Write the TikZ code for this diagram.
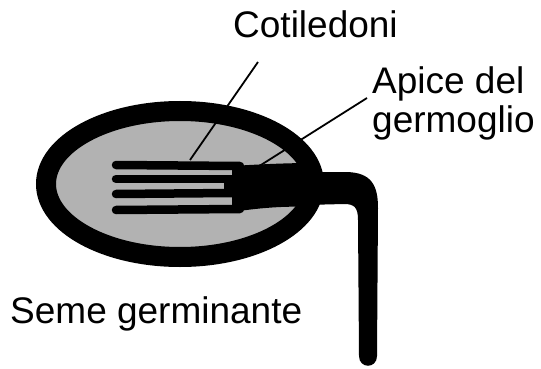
\documentclass[tikz,border=0pt]{standalone}
\usepackage{fontspec}
\setmainfont{Liberation Sans}
\definecolor{seedgray}{RGB}{178,178,178}

\begin{document}
\begin{tikzpicture}[x=1pt,y=-1pt,
			tag/.style={inner sep=0pt, anchor=base west, font=\fontsize{37}{39}\selectfont},
			leader/.style={line width=1.8pt},
			coat/.style={line width=20pt, fill=seedgray},
			leaf/.style={line width=8.5pt, line cap=round}]
	\useasboundingbox (0,0) rectangle (541,369);
	% seed coat
	\draw[coat] (180,184) ellipse [x radius=134, y radius=73];
	% embryo axis and stem
	\fill (232,166) .. controls (265,164) and (290,163) .. (312,163) -- (312,207)
		.. controls (290,206) and (265,207) .. (232,212) -- cycle;
	\fill (305,172) -- (345,172) .. controls (372,172) and (378,186) .. (378,208)
		-- (377,356) .. controls (377,369) and (359,369) .. (359,356)
		-- (358,220) .. controls (358,207) and (354,204) .. (344,204) -- (305,205) -- cycle;
	% cotyledons
	\draw[leaf] (116,165) -- (240,166);
	\draw[leaf] (116,179) -- (232,179);
	\draw[leaf] (116,194) -- (232,193);
	\draw[leaf] (116,210) -- (240,209);
	\fill (224,179) rectangle (236,193);
	% labels
	\node[tag] (cot) at (233,38) {Cotiledoni};
	\node[tag] (apice) at (372,93) {Apice del};
	\node[tag] (germ) at (372,132) {germoglio};
	\node[tag] (seme) at (10,323) {Seme germinante};
	\coordinate (cotend) at (190,160);
	\coordinate (apiceend) at (253,170);
	\draw[leader] ([xshift=25pt,yshift=-24pt]cot.base west) -- (cotend);
	\draw[leader] ([xshift=-5pt,yshift=-5pt]apice.base west) -- (apiceend);
\end{tikzpicture}
\end{document}
